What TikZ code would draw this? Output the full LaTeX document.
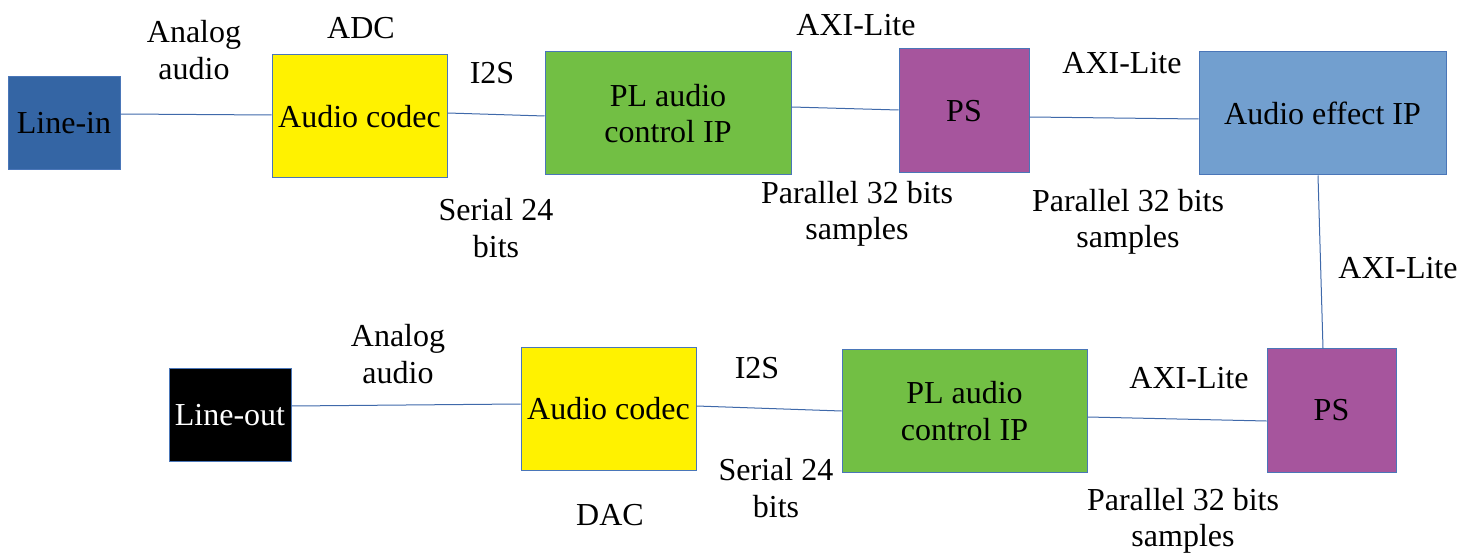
\documentclass[tikz,border=0pt]{standalone}
\usepackage{fontspec}
\setmainfont{Liberation Serif}
\begin{document}
\begin{tikzpicture}[x=1pt,y=-1pt,
  every node/.style={font=\fontsize{32}{36.5}\selectfont, align=center, inner sep=0pt},
  block/.style={draw=boxline, line width=1pt, minimum width=#1},
  link/.style={draw=wire, line width=1pt},
  lbl/.style={text=black}]
\definecolor{boxline}{HTML}{4A76B8}
\definecolor{wire}{HTML}{3F69AA}
\definecolor{linein}{HTML}{3465A4}
\definecolor{codec}{HTML}{FFF200}
\definecolor{plgreen}{HTML}{72BF44}
\definecolor{psviolet}{HTML}{A6559D}
\definecolor{effect}{HTML}{729FCF}
\useasboundingbox (0,0) rectangle (1473,553);

% capture chain
\node[block=112pt, minimum height=93pt, fill=linein] (lin) at (64,123.5) {Line-in};
\node[block=175pt, minimum height=123pt, fill=codec] (adc) at (359.5,116.5) {Audio codec};
\node[block=246pt, minimum height=123pt, fill=plgreen] (plin) at (668,113.5) {PL audio\\control IP};
\node[block=130pt, minimum height=124pt, fill=psviolet] (psa) at (964,111) {PS};
\node[block=247pt, minimum height=123pt, fill=effect] (fx) at (1322.5,113.5) {Audio effect IP};

% playback chain
\node[block=129pt, minimum height=123pt, fill=psviolet] (psb) at (1331.5,410.5) {PS};
\node[block=245pt, minimum height=122pt, fill=plgreen] (plout) at (964.5,411) {PL audio\\control IP};
\node[block=175pt, minimum height=122pt, fill=codec] (dac) at (608.5,409) {Audio codec};
\node[block=122pt, minimum height=92pt, fill=black, text=white] (lout) at (230,415) {Line-out};

% connections
\draw[link] ([yshift=9.5pt]lin.east) -- ([yshift=1.5pt]adc.west);
\draw[link] ([yshift=3.5pt]adc.east) -- ([yshift=-2.5pt]plin.west);
\draw[link] ([yshift=6.5pt]plin.east) -- ([yshift=1pt]psa.west);
\draw[link] ([yshift=-6pt]psa.east) -- ([yshift=-5.5pt]fx.west);
\draw[link] ([xshift=-4.5pt]fx.south) -- ([xshift=-8.5pt]psb.north);
\draw[link] ([yshift=-10.5pt]psb.west) -- ([yshift=-6pt]plout.east);
\draw[link] (plout.west) -- ([yshift=3pt]dac.east);
\draw[link] ([yshift=5pt]dac.west) -- ([yshift=9pt]lout.east);

% signal labels
\node[lbl] (t1) at (194,50) {Analog\\audio};
\node[lbl] (t2) at (361,28) {ADC};
\node[lbl] (t3) at (492,73) {I2S};
\node[lbl] (t4) at (496,228) {Serial 24\\bits};
\node[lbl] (t5) at (856,25) {AXI-Lite};
\node[lbl] (t6) at (857,214) {Parallel 32 bits\\samples};
\node[lbl] (t7) at (1122,63) {AXI-Lite};
\node[lbl] (t8) at (1128,222) {Parallel 32 bits\\samples};
\node[lbl] (t9) at (1398,268) {AXI-Lite};
\node[lbl] (t10) at (398,354) {Analog\\audio};
\node[lbl] (t11) at (757,368) {I2S};
\node[lbl] (t12) at (776,488) {Serial 24\\bits};
\node[lbl] (t13) at (610,515) {DAC};
\node[lbl] (t14) at (1189,378) {AXI-Lite};
\node[lbl] (t15) at (1183,521) {Parallel 32 bits\\samples};
\end{tikzpicture}
\end{document}
